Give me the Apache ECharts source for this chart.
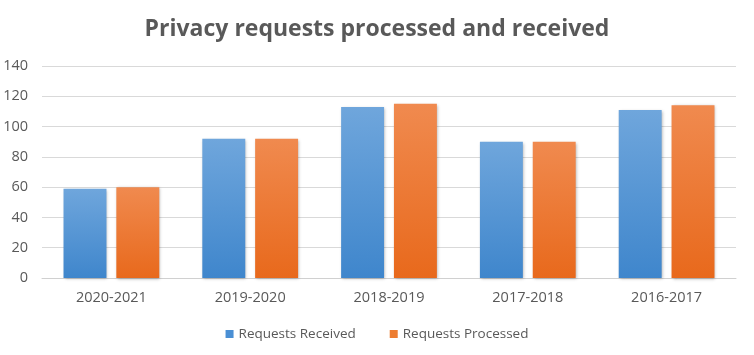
<!DOCTYPE html>
<html><head><meta charset="utf-8">
<script src="https://cdn.jsdelivr.net/npm/echarts@6/dist/echarts.min.js"></script>
<style>html,body{margin:0;padding:0;background:#fff}#c{width:754px;height:355px}</style>
</head><body><div id="c"></div>
<script>
var categories = ['2020-2021','2019-2020','2018-2019','2017-2018','2016-2017'];
var received = [59, 92, 113, 90, 111];
var processed = [60, 92, 115, 90, 114];
var yTicks = [0,20,40,60,80,100,120,140];

var chart = echarts.init(document.getElementById('c'));
function grad(top, bottom){
  return new echarts.graphic.LinearGradient(0,0,0,1,[{offset:0,color:top},{offset:1,color:bottom}]);
}
chart.setOption({
  animation:false,
  title:{text:'Privacy requests processed and received',left:'center',top:13,
    textStyle:{fontFamily:'Open Sans',fontWeight:'bold',fontSize:23,color:'#595959'}},
  legend:{bottom:9,itemWidth:8,itemHeight:8,itemGap:34,icon:'rect',
    textStyle:{fontFamily:'Open Sans',fontSize:13.5,color:'#595959'},
    data:[{name:'Requests Received',itemStyle:{color:'#4a8fd4'}},{name:'Requests Processed',itemStyle:{color:'#ed7d31'}}]},
  grid:{left:42,right:18,top:66,bottom:77},
  xAxis:{type:'category',data:categories,
    axisLine:{lineStyle:{color:'#d0d0d0',width:1}},axisTick:{show:false},
    axisLabel:{fontFamily:'Open Sans',fontSize:14.5,color:'#595959',margin:12}},
  yAxis:{type:'value',min:yTicks[0],max:yTicks[yTicks.length-1],interval:20,
    axisLine:{show:false},axisTick:{show:false},
    splitLine:{lineStyle:{color:'#d9d9d9'}},
    axisLabel:{fontFamily:'Open Sans',fontSize:14.5,color:'#595959',margin:14}},
  series:[
    {name:'Requests Received',type:'bar',data:received,barGap:'23%',barCategoryGap:'31%',
      itemStyle:{color:grad('#6fa6dc','#3f86cc'),shadowColor:'rgba(0,0,0,0.3)',shadowBlur:3,shadowOffsetX:1,shadowOffsetY:1}},
    {name:'Requests Processed',type:'bar',data:processed,
      itemStyle:{color:grad('#f08a4f','#e8691c'),shadowColor:'rgba(0,0,0,0.3)',shadowBlur:3,shadowOffsetX:1,shadowOffsetY:1}}
  ]
});
</script></body></html>
